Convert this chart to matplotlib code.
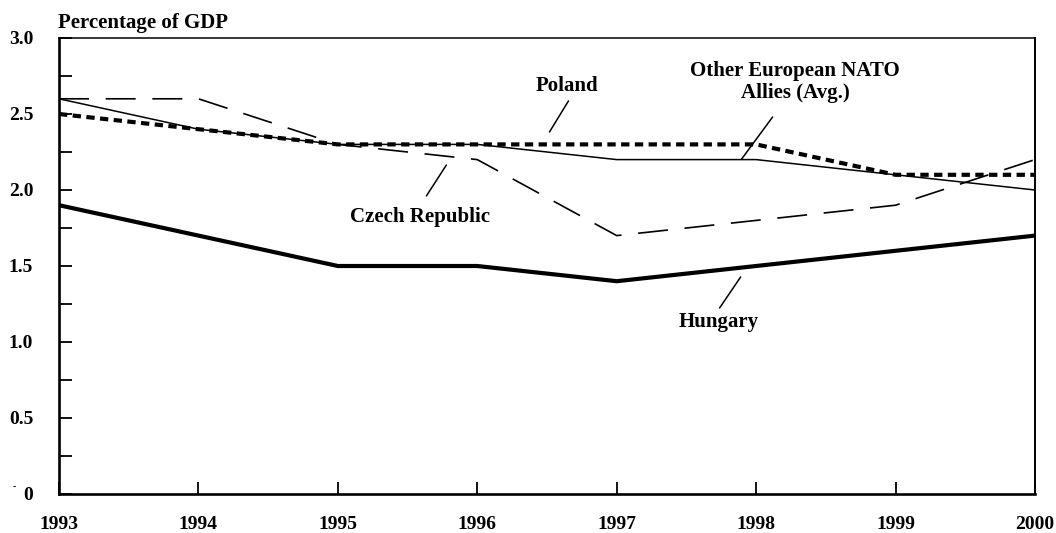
import matplotlib
matplotlib.use("Agg")
import matplotlib.pyplot as plt
import numpy as np

years = [1993, 1994, 1995, 1996, 1997, 1998, 1999, 2000]
czech = [2.6, 2.6, 2.3, 2.2, 1.7, 1.8, 1.9, 2.2]
poland = [2.5, 2.4, 2.3, 2.3, 2.3, 2.3, 2.1, 2.1]
other_nato = [2.6, 2.4, 2.3, 2.3, 2.2, 2.2, 2.1, 2.0]
hungary = [1.9, 1.7, 1.5, 1.5, 1.4, 1.5, 1.6, 1.7]
ytick_vals = [0, 0.5, 1.0, 1.5, 2.0, 2.5, 3.0]
ytick_labels = ["0", "0.5", "1.0", "1.5", "2.0", "2.5", "3.0"]

plt.rcParams['font.family'] = ['Liberation Serif', 'DejaVu Serif']
plt.rcParams['font.weight'] = 'bold'

fig = plt.figure(figsize=(10.56, 5.33), dpi=100)
ax = fig.add_axes([59/1056, 39/533, 976/1056, 456/533])

ax.plot(years, czech, color='black', lw=1.2, linestyle=(0, (18, 10)), dash_capstyle='butt')
ax.plot(years, other_nato, color='black', lw=1.1, solid_joinstyle='miter')
ax.plot(years, poland, color='black', lw=3.0, linestyle=(0, (2.0, 1.3)), dash_capstyle='butt')
ax.plot(years, hungary, color='black', lw=3.0, solid_joinstyle='miter')

ax.set_xlim(1993, 2000)
ax.set_ylim(0, 3.0)
ax.set_xticks(years)
ax.set_xticklabels([str(y) for y in years])
ax.set_yticks(ytick_vals)
ax.set_yticklabels(ytick_labels)
ax.set_yticks(np.arange(0.25, 3.0, 0.5), minor=True)

ax.tick_params(axis='y', which='both', direction='in', length=9.5, width=1.3,
               pad=18.5, labelsize=14)
ax.tick_params(axis='x', which='both', direction='in', length=8.6, width=1.3,
               pad=16, labelsize=14)
for lab in ax.get_xticklabels() + ax.get_yticklabels():
    lab.set_fontweight('bold')

ax.spines['left'].set_linewidth(1.9)
ax.spines['bottom'].set_linewidth(1.9)
ax.spines['top'].set_linewidth(1.1)
ax.spines['right'].set_linewidth(1.4)

fs = 15
lp = dict(arrowstyle='-', color='black', lw=1.1, shrinkA=0, shrinkB=0)
ax.text(1996.64, 2.684, "Poland", ha='center', va='center', fontsize=fs, fontweight='bold')
ax.annotate("", xy=(1996.518, 2.382), xytext=(1996.654, 2.586), arrowprops=lp)
ax.text(1995.592, 1.822, "Czech Republic", ha='center', va='center', fontsize=fs, fontweight='bold')
ax.annotate("", xy=(1995.778, 2.164), xytext=(1995.635, 1.961), arrowprops=lp)
ax.text(1998.28, 2.71, "Other European NATO\nAllies (Avg.)", ha='center', va='center',
        fontsize=fs, fontweight='bold', linespacing=1.1)
ax.annotate("", xy=(1997.896, 2.204), xytext=(1998.118, 2.480), arrowprops=lp)
ax.text(1997.73, 1.13, "Hungary", ha='center', va='center', fontsize=fs, fontweight='bold')
ax.annotate("", xy=(1997.889, 1.428), xytext=(1997.738, 1.224), arrowprops=lp)

fig.text(58/1056, 1 - 13/533, "Percentage of GDP", ha='left', va='top',
         fontsize=15, fontweight='bold')
fig.text(13/1056, 1 - 487/533, "-", ha='left', va='center', fontsize=7)

fig.savefig("out.png", dpi=100)
